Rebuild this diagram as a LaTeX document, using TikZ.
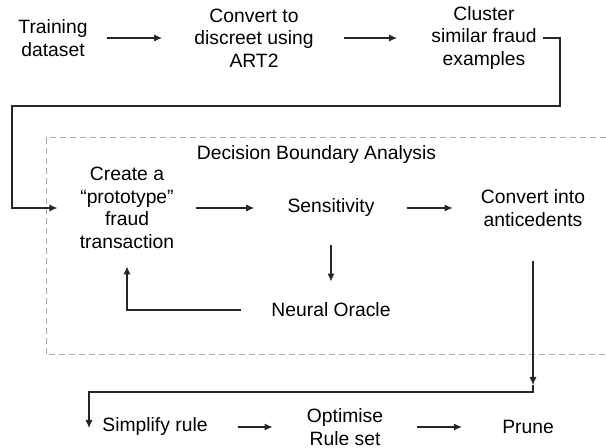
\documentclass[tikz,border=0pt]{standalone}
\usepackage{fontspec}
\setmainfont{Liberation Sans}
\usetikzlibrary{calc,arrows.meta,positioning}

\begin{document}
\begin{tikzpicture}[x=0.5pt,y=0.5pt]

\tikzset{textnode/.style={font=\fontsize{9.65}{11.25}\selectfont,align=center,inner sep=0pt},
flowarrow/.style={draw=black!85,line width=0.55pt,-{Latex[length=4pt,width=3.6pt]}},
boundary/.style={draw=black!35,line width=0.5pt,dash pattern=on 3pt off 2pt}}

\useasboundingbox (0,0) rectangle (606,-448);

% Top row
\node[textnode] (train) at (53,-38) {Training\\dataset};
\node[textnode] (conv) at (254,-38) {Convert to\\discreet using\\ART2};
\node[textnode] (clus) at (484,-38) {Cluster\\similar fraud\\examples};

% Decision boundary analysis
\draw[boundary] (606,-138) -- (46,-138) -- (46,-355) -- (606,-355);
\node[textnode] (dba) at (316.5,-155) {Decision Boundary Analysis};
\node[textnode] (create) at (127,-208) {Create a\\``prototype''\\fraud\\transaction};
\node[textnode] (sens) at (331,-208) {Sensitivity};
\node[textnode] (anti) at (533,-208) {Convert into\\anticedents};
\node[textnode] (oracle) at (331,-310) {Neural Oracle};

% Bottom row
\node[textnode] (simp) at (155,-427) {Simplify rule};
\node[textnode] (opt) at (345,-427) {Optimise\\Rule set};
\node[textnode] (prune) at (528,-427) {Prune};

% Bends
\coordinate (c1) at (560,-106);
\coordinate (c2) at (12,-106);
\coordinate (c3) at (533,-385);
\coordinate (c4) at (533,-392);
\coordinate (c5) at (89,-428);

% Edges
\draw[flowarrow,shorten <=9.5pt,shorten >=16pt] (train) -- (conv); \draw[flowarrow,shorten <=15pt,shorten >=17pt] (conv) -- (clus); % top row
\draw[flowarrow,shorten <=3pt,shorten >=11pt] (clus.east) -| (c1) -- (c2) |- (create.west);
\draw[flowarrow,shorten <=10.5pt,shorten >=16.5pt] (create) -- (sens); \draw[flowarrow,shorten <=16pt,shorten >=14pt] (sens) -- (anti);
\draw[flowarrow,shorten <=14pt,shorten >=10.5pt] (sens) -- (oracle); \draw[flowarrow,shorten <=15pt,shorten >=8.75pt] (oracle.west) -| (create.south); % loop
\draw[flowarrow,shorten <=17pt] (anti) -- (c3); \draw[flowarrow] (c3) -- (c4) -| (c5);
\draw[flowarrow,shorten <=15pt,shorten >=17pt] (simp) -- (opt); \draw[flowarrow,shorten <=17pt,shorten >=20pt] (opt) -- (prune); % bottom row

\end{tikzpicture}
\end{document}
